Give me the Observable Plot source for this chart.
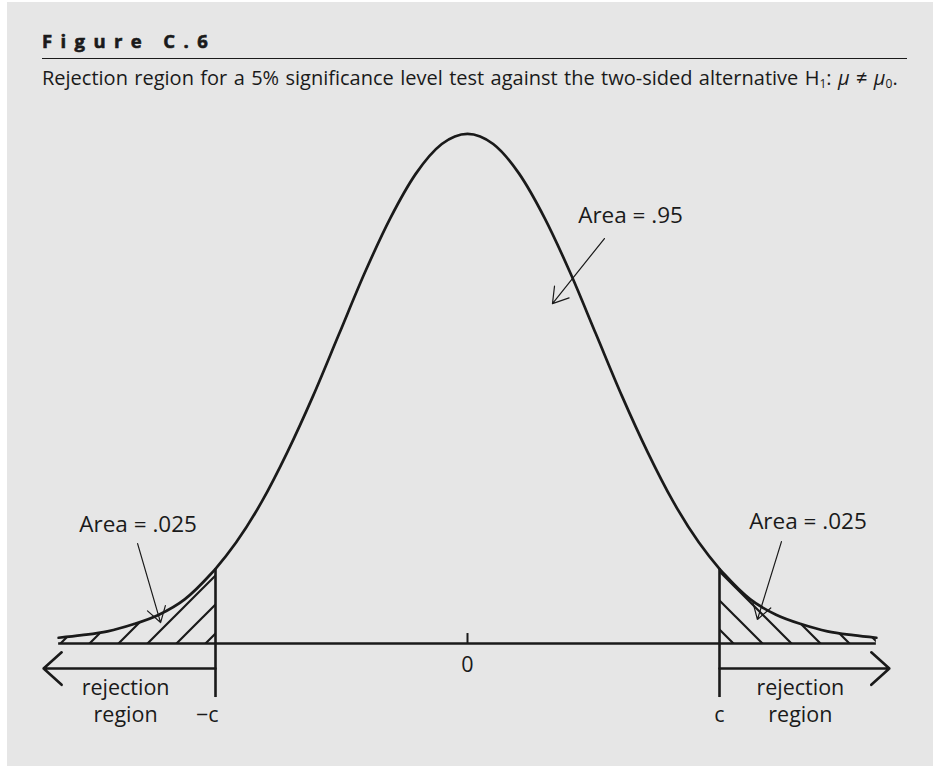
<!DOCTYPE html>
<html>
<head>
<meta charset="utf-8">
<script src="https://cdn.jsdelivr.net/npm/d3@7"></script>
<script src="https://cdn.jsdelivr.net/npm/@observablehq/plot@0.6"></script>
<style>
  html, body { margin: 0; padding: 0; background: #ffffff; }
  #panel { position: absolute; left: 7px; top: 2px; width: 926px; height: 764px; background: #e6e6e6; }
  #wrap { position: absolute; left: 0; top: 0; width: 933px; height: 767px; font-family: "Open Sans", sans-serif; color: #1a1a1a; }
  #title { position: absolute; left: 42px; top: 32px; font-size: 18.5px; line-height: 18px; font-weight: 700; letter-spacing: 8.4px; white-space: nowrap; -webkit-text-stroke: 0.6px #1a1a1a; }
  #rule { position: absolute; left: 42px; top: 58px; width: 865px; height: 0; border-top: 1.6px solid #1a1a1a; }
  #subtitle { position: absolute; left: 42px; top: 68px; font-size: 20px; line-height: 19px; word-spacing: 1.2px; white-space: nowrap; }
  #subtitle sub { font-size: 12px; vertical-align: -3px; line-height: 0; }
  #chart { position: absolute; left: 0; top: 95px; }
</style>
</head>
<body>
<div id="panel"></div>
<div id="wrap">
  <div id="title">Figure C.6</div>
  <div id="rule"></div>
  <div id="subtitle">Rejection region for a 5% significance level test against the two-sided alternative H<sub>1</sub>: <i>μ</i> ≠ <i>μ</i><sub>0</sub>.</div>
  <div id="chart"></div>
</div>
<script>
// ---- data ----
const curveX = [-3.18, -3.0, -2.8, -2.6, -2.4, -2.2, -2.0, -1.96, -1.8, -1.6, -1.4, -1.2, -1.0, -0.8, -0.6, -0.4, -0.2, 0,
                 0.2, 0.4, 0.6, 0.8, 1.0, 1.2, 1.4, 1.6, 1.8, 1.96, 2.0, 2.2, 2.4, 2.6, 2.8, 3.0, 3.18];
const curveDensity = [0.0045, 0.0065, 0.0095, 0.0150, 0.0225, 0.0345, 0.054, 0.0585, 0.079, 0.111, 0.150, 0.194, 0.242, 0.290, 0.333, 0.368, 0.391, 0.399,
                      0.391, 0.368, 0.333, 0.290, 0.242, 0.194, 0.150, 0.111, 0.079, 0.0585, 0.054, 0.0345, 0.0225, 0.0150, 0.0095, 0.0065, 0.0045];
const criticalValue = 1.96;
const criticalDensity = 0.0585;
const tickValues = [0];
const tickLabels = ["0"];
const areaLabels = ["Area = .95", "Area = .025", "Area = .025"];
const regionLabels = ["rejection\nregion", "rejection\nregion"];
const criticalLabels = ["−c", "c"];

// ---- tables ----
const curve = curveX.map((x, i) => ({x, y: curveDensity[i]}));
const leftTail = curve.filter(d => d.x <= -criticalValue);
const rightTail = curve.filter(d => d.x >= criticalValue);
const xMin = curveX[0], xMax = curveX[curveX.length - 1];

const ink = "#1a1a1a";
const fs = 21.5;

const svg = Plot.plot({
  width: 933,
  height: 672,
  margin: 0,
  x: {domain: [-criticalValue, criticalValue], range: [215, 719], axis: null},
  y: {domain: [0, 0.4], range: [548, 37], axis: null},
  style: {background: "transparent", fontFamily: "Open Sans, sans-serif", color: ink, overflow: "visible"},
  marks: [
    // hatched tails
    Plot.areaY(leftTail, {x: "x", y: "y", fill: "url(#hatchL)", curve: "monotone-x"}),
    Plot.areaY(rightTail, {x: "x", y: "y", fill: "url(#hatchR)", curve: "monotone-x"}),
    // baseline
    Plot.ruleY([0], {x1: xMin, x2: xMax, stroke: ink, strokeWidth: 2.6}),
    // density curve
    Plot.line(curve, {x: "x", y: "y", stroke: ink, strokeWidth: 2.7, curve: "monotone-x"}),
    // critical value lines
    Plot.ruleX([-criticalValue, criticalValue], {y1: -0.0423, y2: criticalDensity, stroke: ink, strokeWidth: 2.6}),
    // tick at 0
    Plot.ruleX(tickValues, {y1: 0, y2: 0.0078, stroke: ink, strokeWidth: 2}),
    Plot.text(tickLabels, {x: tickValues[0], y: -0.0227, text: d => d, lineAnchor: "bottom", fontSize: fs}),
    // rejection region arrows
    Plot.arrow([0], {x1: -criticalValue, x2: -3.297, y1: -0.0196, y2: -0.0196, stroke: ink, strokeWidth: 2.6, headAngle: 84, headLength: 14}),
    Plot.arrow([0], {x1: criticalValue, x2: 3.281, y1: -0.0196, y2: -0.0196, stroke: ink, strokeWidth: 2.6, headAngle: 84, headLength: 14}),
    Plot.text([regionLabels[0]], {x: -2.659, y: -0.0618, text: d => d, lineAnchor: "bottom", lineHeight: 1.26, fontSize: fs}),
    Plot.text([regionLabels[1]], {x: 2.589, y: -0.0618, text: d => d, lineAnchor: "bottom", lineHeight: 1.26, fontSize: fs}),
    Plot.text([criticalLabels[0]], {x: -criticalValue, y: -0.0618, text: d => d, textAnchor: "end", dx: 3, lineAnchor: "bottom", fontSize: fs}),
    Plot.text([criticalLabels[1]], {x: criticalValue, y: -0.0618, text: d => d, lineAnchor: "bottom", fontSize: fs}),
    // area annotations
    Plot.text([areaLabels[0]], {x: 1.268, y: 0.3294, text: d => d, lineAnchor: "bottom", fontSize: 22.5}),
    Plot.arrow([0], {x1: 1.065, y1: 0.317, x2: 0.661, y2: 0.266, stroke: ink, strokeWidth: 1.2, headAngle: 64, headLength: 22}),
    Plot.text([areaLabels[1]], {x: -2.562, y: 0.0876, text: d => d, lineAnchor: "bottom", fontSize: 22.5}),
    Plot.arrow([0], {x1: -2.566, y1: 0.0782, x2: -2.387, y2: 0.0164, stroke: ink, strokeWidth: 1.2, headAngle: 64, headLength: 22}),
    Plot.text([areaLabels[2]], {x: 2.648, y: 0.0900, text: d => d, lineAnchor: "bottom", fontSize: 22.5}),
    Plot.arrow([0], {x1: 2.442, y1: 0.0798, x2: 2.255, y2: 0.0188, stroke: ink, strokeWidth: 1.2, headAngle: 64, headLength: 22})
  ]
});

// hatch patterns
const ns = "http://www.w3.org/2000/svg";
const defs = document.createElementNS(ns, "defs");
defs.innerHTML =
  `<pattern id="hatchL" patternUnits="userSpaceOnUse" x="0" y="0" width="29" height="29">
     <path d="M-2,2 L2,-2 M0,29 L29,0 M27,31 L31,27" stroke="${ink}" stroke-width="2.2"/>
   </pattern>
   <pattern id="hatchR" patternUnits="userSpaceOnUse" x="11" y="0" width="29" height="29">
     <path d="M0,0 L29,29 M-2,27 L2,31 M27,-2 L31,2" stroke="${ink}" stroke-width="2.2"/>
   </pattern>`;
svg.insertBefore(defs, svg.firstChild);

document.getElementById("chart").appendChild(svg);
</script>
</body>
</html>
